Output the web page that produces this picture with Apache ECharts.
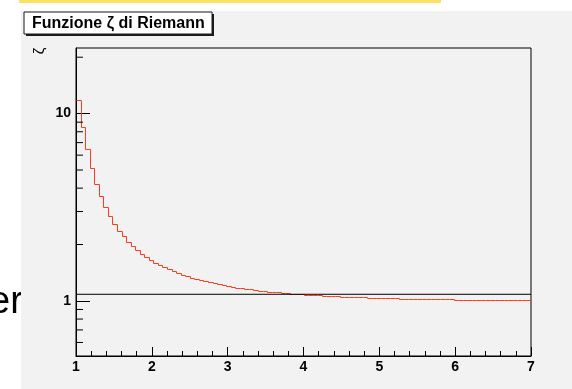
<!DOCTYPE html>
<html>
<head>
<meta charset="utf-8">
<script src="https://cdn.jsdelivr.net/npm/echarts@6/dist/echarts.min.js"></script>
<style>
html,body{margin:0;padding:0;background:#ffffff;}
#chart{width:572px;height:389px;}
</style>
</head>
<body>
<div id="chart"></div>
<script>
// ---- data ----
const titleText = 'Funzione ζ di Riemann';
const yAxisTitle = 'ζ';
const xRange = [1, 7];
const nBins = 100;
const yRange = [0.508, 22.4];
const xTickLabels = ['1', '2', '3', '4', '5', '6', '7'];
const yMajorTicks = [1, 10];
const yMinorTicks = [0.6, 0.7, 0.8, 0.9, 2, 3, 4, 5, 6, 7, 8, 9, 20];
const refLineValue = 1.085;
const zetaValues = [
  11.84, 8.50, 6.49, 5.14, 4.23,
  3.63, 3.17, 2.83, 2.57, 2.37, 2.21, 2.07, 1.96, 1.87, 1.79, 1.72, 1.65,
  1.60, 1.552, 1.510, 1.472, 1.438, 1.407, 1.378, 1.353, 1.330, 1.308, 1.289, 1.271, 1.254, 1.239, 1.224, 1.211,
  1.200, 1.189, 1.179, 1.169, 1.160, 1.151, 1.143, 1.135, 1.128,
  1.121, 1.115, 1.109, 1.104, 1.099, 1.094, 1.089, 1.085,
  1.080, 1.077, 1.073, 1.069, 1.066, 1.063, 1.060, 1.057,
  1.054, 1.052, 1.049, 1.047, 1.045, 1.043, 1.041, 1.039, 1.037,
  1.036, 1.034, 1.032, 1.031, 1.030, 1.028, 1.027, 1.026,
  1.025, 1.024, 1.023, 1.022, 1.021, 1.020, 1.019, 1.018,
  1.017, 1.017, 1.016, 1.015, 1.014, 1.014, 1.013, 1.013, 1.012,
  1.012, 1.011, 1.011, 1.010, 1.010, 1.009, 1.009, 1.009
];
const slideFragment = 'er';

// ---- build series data ----
const binWidth = (xRange[1] - xRange[0]) / nBins;
const histData = zetaValues.map((v, i) => [
  xRange[0] + i * binWidth,
  xRange[0] + (i + 1) * binWidth,
  v,
  i + 1 < zetaValues.length ? zetaValues[i + 1] : v
]);
const refLineData = [[xRange[0], refLineValue], [xRange[1], refLineValue]];
const minorTickData = yMinorTicks.map(v => [xRange[0], v]);

const FONT = "'Liberation Sans', Arial, Helvetica, sans-serif";
const snap = c => Math.round(c) + 0.5;
const chart = echarts.init(document.getElementById('chart'), null, {renderer: 'canvas'});

chart.setOption({
  animation: false,
  backgroundColor: '#f2f2f2',
  grid: {
    left: 76, right: 41, top: 48, bottom: 33,
    show: true, borderColor: '#000', borderWidth: 1, backgroundColor: 'transparent'
  },
  xAxis: {
    type: 'value',
    min: xRange[0], max: xRange[1], interval: 1,
    axisLine: {show: true, lineStyle: {color: '#000', width: 1}},
    axisTick: {show: true, inside: true, length: 9, lineStyle: {color: '#000'}},
    minorTick: {show: true, splitNumber: 5, length: 5, lineStyle: {color: '#000'}},
    splitLine: {show: false},
    axisLabel: {
      margin: 4, color: '#000', fontSize: 14, fontWeight: 'bold', fontFamily: FONT,
      formatter: v => xTickLabels[Math.round(v - xRange[0])] ?? ''
    }
  },
  yAxis: {
    type: 'log', logBase: 10,
    min: yRange[0], max: yRange[1],
    axisLine: {show: true, lineStyle: {color: '#000', width: 1}},
    axisTick: {show: true, inside: true, length: 14, lineStyle: {color: '#000'}},
    splitLine: {show: false},
    axisLabel: {
      margin: 5, color: '#000', fontSize: 14, fontWeight: 'bold', fontFamily: FONT,
      showMinLabel: false, showMaxLabel: false,
      formatter: v => {
        const m = yMajorTicks.find(t => Math.abs(t - v) < 1e-6 * t);
        return m !== undefined ? String(m) : '';
      }
    }
  },
  series: [
    {
      type: 'custom', data: histData, z: 3,
      encode: {x: [0, 1], y: [2, 3]},
      renderItem: (params, api) => {
        const a = api.coord([api.value(0), api.value(2)]);
        const b = api.coord([api.value(1), api.value(2)]);
        const c = api.coord([api.value(1), api.value(3)]);
        return {
          type: 'polyline',
          shape: {points: [[snap(a[0]), snap(a[1])], [snap(b[0]), snap(b[1])], [snap(c[0]), snap(c[1])]]},
          style: {stroke: '#ff3b1e', lineWidth: 1, fill: null}
        };
      }
    },
    {
      type: 'line', data: refLineData, symbol: 'none', z: 4,
      lineStyle: {color: '#000', width: 1}
    },
    {
      type: 'custom', data: minorTickData, z: 5,
      renderItem: (params, api) => {
        const p = api.coord([api.value(0), api.value(1)]);
        return {
          type: 'line',
          shape: {x1: p[0], y1: p[1], x2: p[0] + 7, y2: p[1]},
          style: {stroke: '#000', lineWidth: 1}
        };
      }
    }
  ],
  graphic: [
    {type: 'rect', shape: {x: 0, y: 0, width: 572, height: 11}, style: {fill: '#ffffff'}, silent: true},
    {type: 'rect', shape: {x: 0, y: 0, width: 21, height: 389}, style: {fill: '#ffffff'}, silent: true},
    {type: 'rect', shape: {x: 19, y: 0, width: 422, height: 3}, style: {fill: '#ffe066'}, silent: true},
    {type: 'text', x: -11, y: 284, silent: true,
      style: {text: slideFragment, fontSize: 38, fontFamily: FONT, fill: '#000', verticalAlign: 'top'}},
    {type: 'rect', shape: {x: 21, y: 270, width: 10, height: 60}, style: {fill: '#f2f2f2'}, silent: true},
    {type: 'rect', shape: {x: 26, y: 14, width: 188, height: 22}, style: {fill: '#1a1a1a'}, silent: true},
    {type: 'rect', shape: {x: 24, y: 12, width: 188, height: 22}, style: {fill: '#ffffff', stroke: '#1a1a1a', lineWidth: 1}, silent: true},
    {type: 'text', x: 32, y: 23.5, silent: true,
      style: {text: titleText, fontSize: 16, fontWeight: 'bold', fontFamily: FONT, fill: '#000', verticalAlign: 'middle'}},
    {type: 'text', x: 40, y: 51, rotation: Math.PI / 2, silent: true,
      style: {text: yAxisTitle, fontSize: 15, fontFamily: FONT, fill: '#000', align: 'center', verticalAlign: 'middle'}}
  ]
});
</script>
</body>
</html>
